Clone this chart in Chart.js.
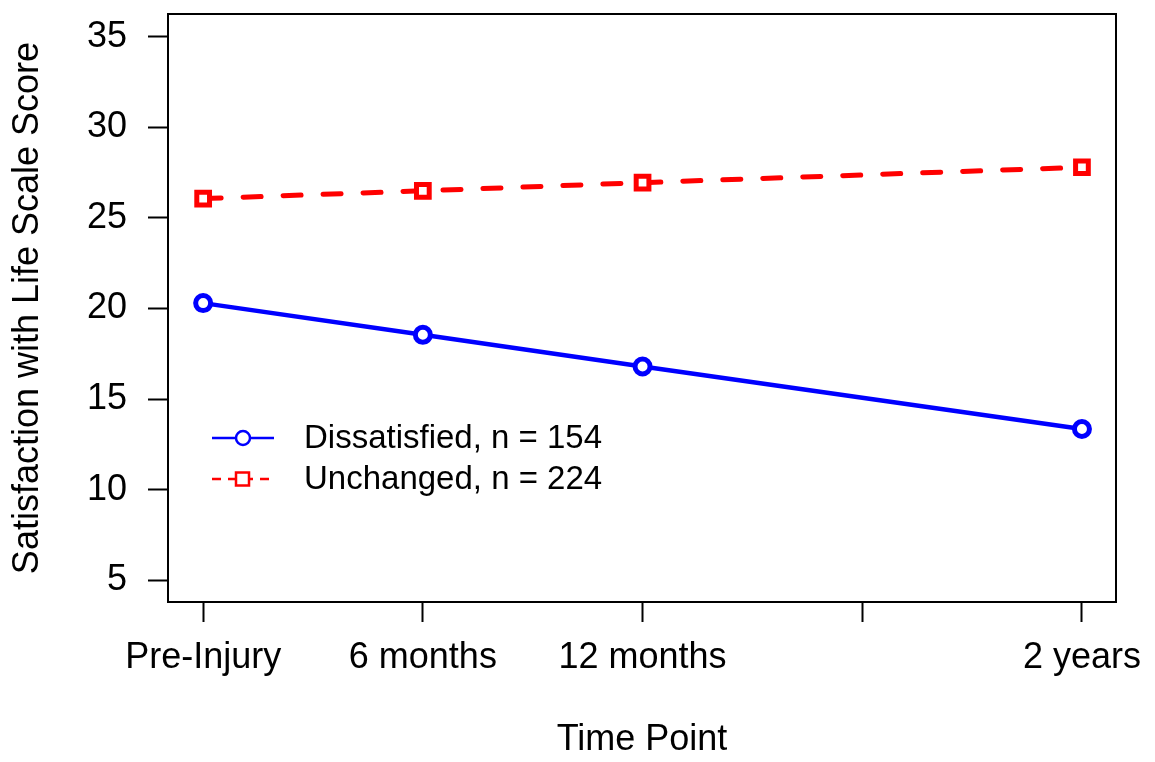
<!DOCTYPE html>
<html>
<head>
<meta charset="utf-8">
<script src="https://cdn.jsdelivr.net/npm/chart.js@4.4.0/dist/chart.umd.min.js"></script>
<style>
html,body{margin:0;padding:0;background:#fff;}
#wrap{width:1155px;height:762px;}
</style>
</head>
<body>
<div id="wrap"><canvas id="c" width="1155" height="762"></canvas></div>
<script>
const timeValues = [0, 6, 12, 24];
const xTickValues = [0, 6, 12, 18, 24];
const xTickLabels = ['Pre-Injury', '6 months', '12 months', '', '2 years'];
const yTickValues = [5, 10, 15, 20, 25, 30, 35];
const dissatisfied = [20.3, 18.55, 16.8, 13.35];
const unchanged = [26.07, 26.5, 26.95, 27.8];
const seriesLabels = ['Dissatisfied, n = 154', 'Unchanged, n = 224'];

const FONT = "'Liberation Sans', Arial, Helvetica, sans-serif";

const boxPlugin = {
  id: 'box',
  afterDraw(chart) {
    const {ctx, chartArea: a} = chart;
    ctx.save();
    ctx.strokeStyle = '#000';
    ctx.lineWidth = 2;
    ctx.strokeRect(a.left, a.top, a.right - a.left, a.bottom - a.top);
    ctx.restore();
  }
};

const legendPlugin = {
  id: 'rlegend',
  afterDraw(chart) {
    const ctx = chart.ctx;
    const rows = [
      {y: 438, ds: chart.data.datasets[0]},
      {y: 479, ds: chart.data.datasets[1]}
    ];
    ctx.save();
    rows.forEach((r, i) => {
      const c = r.ds.borderColor;
      ctx.strokeStyle = c;
      ctx.lineWidth = 2.5;
      ctx.setLineDash(i === 0 ? [] : [9, 7]);
      ctx.lineCap = 'butt';
      ctx.beginPath();
      ctx.moveTo(212, r.y);
      ctx.lineTo(274, r.y);
      ctx.stroke();
      ctx.setLineDash([]);
      ctx.fillStyle = '#fff';
      ctx.beginPath();
      if (i === 0) {
        ctx.arc(243, r.y, 7, 0, Math.PI * 2);
      } else {
        ctx.rect(236, r.y - 6.5, 13, 13);
      }
      ctx.fill();
      ctx.stroke();
      ctx.fillStyle = '#000';
      ctx.font = '33px ' + FONT;
      ctx.textBaseline = 'middle';
      ctx.textAlign = 'left';
      ctx.fillText(r.ds.label, 304, r.y + 1);
    });
    ctx.restore();
  }
};

new Chart(document.getElementById('c'), {
  type: 'line',
  data: {
    datasets: [
      {
        label: seriesLabels[0],
        data: timeValues.map((t, i) => ({x: t, y: dissatisfied[i]})),
        borderColor: '#0000ff',
        backgroundColor: '#ffffff',
        borderWidth: 4.5,
        pointStyle: 'circle',
        pointRadius: 7.5,
        pointBorderWidth: 5,
        pointBackgroundColor: '#ffffff',
        pointBorderColor: '#0000ff',
        tension: 0,
        fill: false
      },
      {
        label: seriesLabels[1],
        data: timeValues.map((t, i) => ({x: t, y: unchanged[i]})),
        borderColor: '#ff0000',
        backgroundColor: '#ffffff',
        borderWidth: 5,
        borderDash: [18, 22],
        borderCapStyle: 'round',
        pointStyle: 'rect',
        pointRadius: 9,
        pointBorderWidth: 5,
        pointBackgroundColor: '#ffffff',
        pointBorderColor: '#ff0000',
        tension: 0,
        fill: false
      }
    ]
  },
  options: {
    responsive: false,
    animation: false,
    devicePixelRatio: 1,
    layout: {padding: {top: 12, right: 39, bottom: 0, left: 0}},
    plugins: {legend: {display: false}, tooltip: {enabled: false}},
    scales: {
      x: {
        type: 'linear',
        min: -0.96,
        max: 24.93,
        afterBuildTicks(s) { s.ticks = xTickValues.map(v => ({value: v})); },
        afterFit(s) { s.height = 160; s.paddingLeft = 0; s.paddingRight = 0; },
        ticks: {
          autoSkip: false,
          maxRotation: 0,
          minRotation: 0,
          padding: 14,
          color: '#000',
          font: {family: FONT, size: 36},
          callback(v) { const i = xTickValues.indexOf(v); return i >= 0 ? xTickLabels[i] : ''; }
        },
        grid: {display: true, drawOnChartArea: false, drawTicks: true, tickLength: 20, tickWidth: 2, tickColor: '#000'},
        border: {display: false},
        title: {display: true, text: 'Time Point', color: '#000', font: {family: FONT, size: 36}, padding: {top: 0, bottom: 0}}
      },
      y: {
        type: 'linear',
        min: 3.8,
        max: 36.26,
        afterBuildTicks(s) { s.ticks = yTickValues.map(v => ({value: v})); },
        afterFit(s) { s.width = 168; s.paddingTop = 0; s.paddingBottom = 0; },
        ticks: {
          padding: 21,
          color: '#000',
          font: {family: FONT, size: 36},
          callback(v) { return String(v); }
        },
        grid: {display: true, drawOnChartArea: false, drawTicks: true, tickLength: 20, tickWidth: 2, tickColor: '#000'},
        border: {display: false},
        title: {display: true, text: 'Satisfaction with Life Scale Score', color: '#000', font: {family: FONT, size: 36}, padding: {top: 6, bottom: 0}}
      }
    }
  },
  plugins: [boxPlugin, legendPlugin]
});
</script>
</body>
</html>
